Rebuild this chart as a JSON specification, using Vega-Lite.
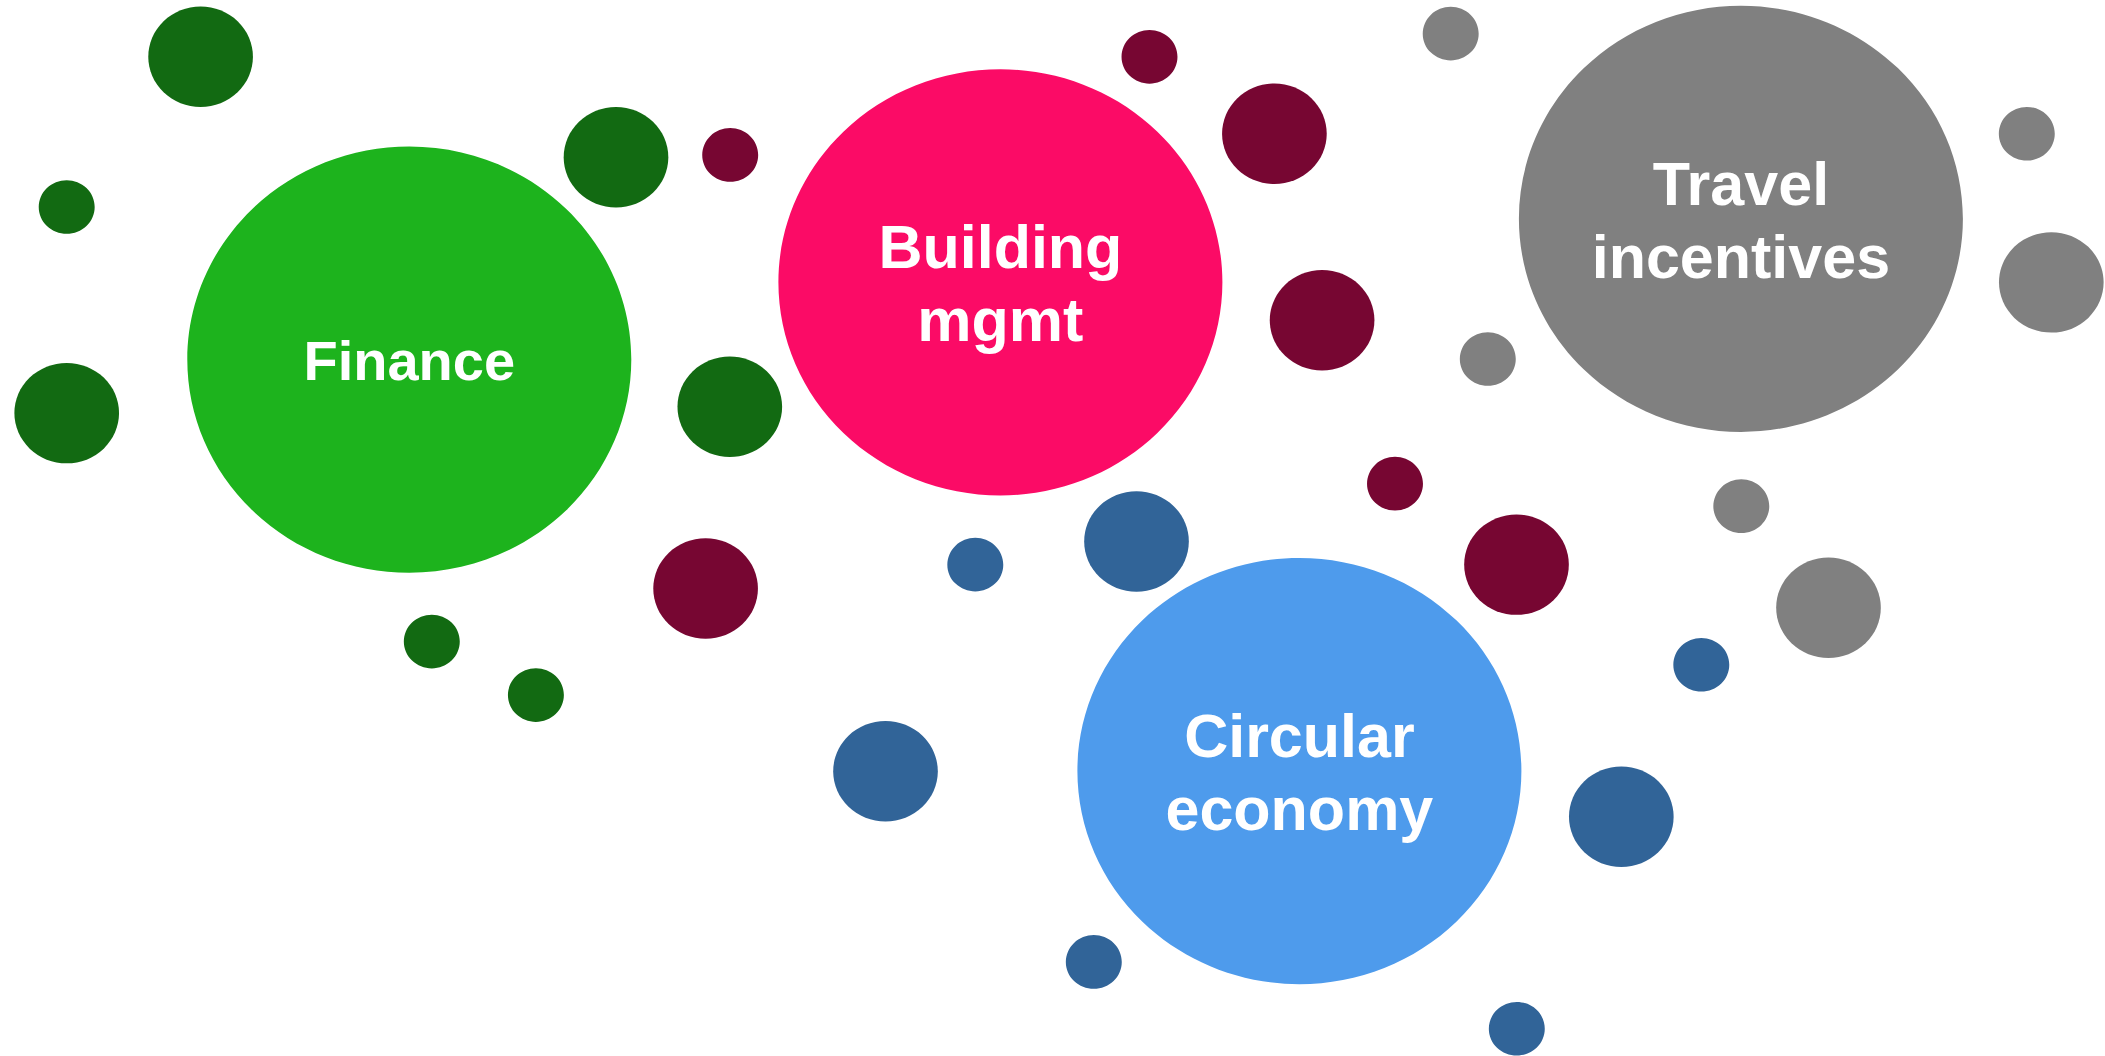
{
  "$schema": "https://vega.github.io/schema/vega-lite/v6.json",
  "width": 2105,
  "height": 1056,
  "autosize": {"type": "fit", "contains": "padding"},
  "padding": 0,
  "background": "white",
  "config": {"view": {"stroke": null}},
  "data": {
    "values": [
      {"series": "Finance", "label": "Finance", "x": 409.3, "y": 360.3, "value": 63},
      {"series": "Building mgmt", "label": "Building mgmt", "x": 1000.4, "y": 282.9, "value": 63},
      {"series": "Travel incentives", "label": "Travel incentives", "x": 1740.9, "y": 219.2, "value": 63},
      {"series": "Circular economy", "label": "Circular economy", "x": 1299.4, "y": 772.5, "value": 63},

      {"series": "Finance detail", "x": 200.6, "y": 56.9, "value": 3.5},
      {"series": "Finance detail", "x": 66.7, "y": 207.4, "value": 1},
      {"series": "Finance detail", "x": 616.0, "y": 157.6, "value": 3.5},
      {"series": "Finance detail", "x": 66.7, "y": 413.9, "value": 3.5},
      {"series": "Finance detail", "x": 729.8, "y": 407.6, "value": 3.5},
      {"series": "Finance detail", "x": 431.8, "y": 642.8, "value": 1},
      {"series": "Finance detail", "x": 535.9, "y": 696.4, "value": 1},

      {"series": "Building mgmt detail", "x": 1149.5, "y": 56.9, "value": 1},
      {"series": "Building mgmt detail", "x": 730.2, "y": 155.2, "value": 1},
      {"series": "Building mgmt detail", "x": 1274.4, "y": 134.0, "value": 3.5},
      {"series": "Building mgmt detail", "x": 1322.1, "y": 320.9, "value": 3.5},
      {"series": "Building mgmt detail", "x": 705.6, "y": 589.6, "value": 3.5},
      {"series": "Building mgmt detail", "x": 1395.0, "y": 484.6, "value": 1},
      {"series": "Building mgmt detail", "x": 1516.5, "y": 565.7, "value": 3.5},

      {"series": "Circular economy detail", "x": 1136.5, "y": 542.5, "value": 3.5},
      {"series": "Circular economy detail", "x": 975.3, "y": 565.7, "value": 1},
      {"series": "Circular economy detail", "x": 885.5, "y": 772.8, "value": 3.5},
      {"series": "Circular economy detail", "x": 1621.3, "y": 818.3, "value": 3.5},
      {"series": "Circular economy detail", "x": 1701.3, "y": 666.0, "value": 1},
      {"series": "Circular economy detail", "x": 1093.8, "y": 963.8, "value": 1},
      {"series": "Circular economy detail", "x": 1516.8, "y": 1030.7, "value": 1},

      {"series": "Travel incentives detail", "x": 1450.7, "y": 33.7, "value": 1},
      {"series": "Travel incentives detail", "x": 1487.8, "y": 359.7, "value": 1},
      {"series": "Travel incentives detail", "x": 2026.8, "y": 134.0, "value": 1},
      {"series": "Travel incentives detail", "x": 2051.3, "y": 282.9, "value": 3.5},
      {"series": "Travel incentives detail", "x": 1741.3, "y": 507.1, "value": 1},
      {"series": "Travel incentives detail", "x": 1828.5, "y": 608.8, "value": 3.5}
    ]
  },
  "encoding": {
    "x": {"field": "x", "type": "quantitative", "scale": {"domain": [0, 2105], "nice": false, "zero": false}, "axis": null},
    "y": {"field": "y", "type": "quantitative", "scale": {"domain": [0, 1056], "reverse": true, "nice": false, "zero": false}, "axis": null}
  },
  "layer": [
    {
      "mark": {"type": "point", "filled": true, "opacity": 1, "strokeWidth": 0, "shape": "M1,0C1,0.25461,0.89465,0.49879,0.70711,0.67882C0.51957,0.85885,0.26522,0.96,0,0.96C-0.26522,0.96,-0.51957,0.85885,-0.70711,0.67882C-0.89465,0.49879,-1,0.25461,-1,0C-1,-0.25461,-0.89465,-0.49879,-0.70711,-0.67882C-0.51957,-0.85885,-0.26522,-0.96,0,-0.96C0.26522,-0.96,0.51957,-0.85885,0.70711,-0.67882C0.89465,-0.49879,1,-0.25461,1,0Z"},
      "encoding": {
        "size": {"field": "value", "type": "quantitative", "scale": {"type": "linear", "domain": [0, 63], "range": [0, 197136], "zero": true}, "legend": null},
        "color": {
          "field": "series", "type": "nominal", "legend": null,
          "scale": {
            "domain": ["Finance", "Building mgmt", "Travel incentives", "Circular economy", "Finance detail", "Building mgmt detail", "Travel incentives detail", "Circular economy detail"],
            "range": ["#1db31d", "#fb0b66", "#808080", "#4e9bec", "#126a12", "#770632", "#808080", "#316498"]
          }
        }
      }
    },
    {
      "transform": [{"filter": "datum.label == 'Finance'"}],
      "mark": {"type": "text", "color": "white", "font": "Liberation Sans", "fontWeight": "bold", "fontSize": 56, "align": "center", "baseline": "alphabetic", "dy": 20},
      "encoding": {"text": {"field": "label", "type": "nominal"}}
    },
    {
      "transform": [{"filter": "isValid(datum.label) && datum.label != 'Finance'"}],
      "mark": {"type": "text", "color": "white", "font": "Liberation Sans", "fontWeight": "bold", "fontSize": 61, "align": "center", "baseline": "alphabetic", "lineBreak": " ", "lineHeight": 73, "dy": -14},
      "encoding": {"text": {"field": "label", "type": "nominal"}}
    }
  ]
}
